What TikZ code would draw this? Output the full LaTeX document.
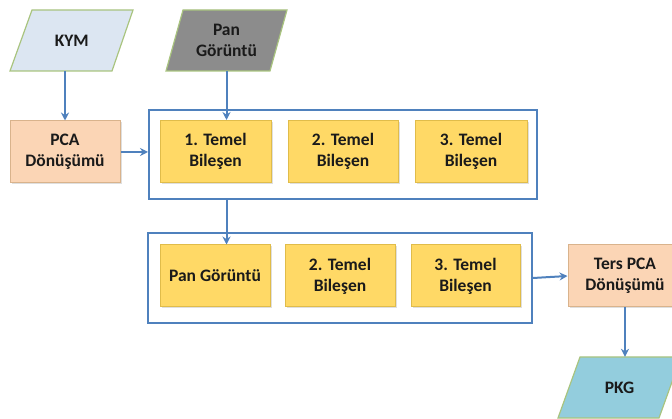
\documentclass[tikz,border=0pt]{standalone}
\usepackage{fontspec}
\setmainfont{Carlito}
\usetikzlibrary{arrows.meta,shadows,calc}

\definecolor{lineblue}{HTML}{4F81BD}
\definecolor{kymfill}{HTML}{DCE6F2}
\definecolor{panfill}{HTML}{8C8C8C}
\definecolor{pkgfill}{HTML}{93CDDD}
\definecolor{paraedge}{HTML}{A9C47F}
\definecolor{pcafill}{HTML}{FBD5B5}
\definecolor{pcaedge}{HTML}{D9B38C}
\definecolor{compfill}{HTML}{FFD966}
\definecolor{compedge}{HTML}{E0BC4A}
\definecolor{txt}{HTML}{1A1A1A}

\tikzset{
  lbl/.style={font=\bfseries\fontsize{17.5}{21}\selectfont, text=txt, align=center, inner sep=0pt},
  para/.style={draw=paraedge, line width=1.2pt},
  rbox/.style={lbl, rectangle, line width=1pt,
    drop shadow={opacity=0.25, shadow xshift=1.5pt, shadow yshift=-1.5pt}},
  pcabox/.style={rbox, draw=pcaedge, fill=pcafill},
  compbox/.style={rbox, draw=compedge, fill=compfill, minimum height=62pt},
  group/.style={draw=lineblue, line width=2pt},
  flow/.style={draw=lineblue, line width=2pt, -{Stealth[length=8pt,width=8pt]}},
}

\begin{document}
\begin{tikzpicture}[x=1pt, y=-1pt]
\useasboundingbox (0,0) rectangle (672,419);
\clip (0,0) rectangle (672,419);

% input parallelograms
\filldraw[para, fill=kymfill] (32,10) -- (133,10) -- (112,71) -- (10,71) -- cycle;
\node[lbl, minimum width=101pt, minimum height=61pt] (kym) at (71.75,40.5) {KYM};

\filldraw[para, fill=panfill] (183,10) -- (287,10) -- (270,71) -- (166,71) -- cycle;
\node[lbl, minimum width=104pt, minimum height=61pt] (pan) at (226.5,40.5) {Pan\\Görüntü};

% forward transform
\node[pcabox, minimum width=110pt, minimum height=62pt] (pca) at (65,152) {PCA\\Dönüşümü};

% first group of components
\node[group, minimum width=388pt, minimum height=89pt] (g1) at (343,154.5) {};
\node[compbox, minimum width=111pt] (c11) at (215.5,151.5) {1. Temel\\Bileşen};
\node[compbox, minimum width=110pt] (c12) at (343,151.5) {2. Temel\\Bileşen};
\node[compbox, minimum width=112pt] (c13) at (471,151.5) {3. Temel\\Bileşen};

% second group of components
\node[group, minimum width=384pt, minimum height=90pt] (g2) at (340,278) {};
\node[compbox, minimum width=110pt] (c21) at (215,276) {Pan Görüntü};
\node[compbox, minimum width=110pt] (c22) at (340,276) {2. Temel\\Bileşen};
\node[compbox, minimum width=109pt] (c23) at (465.5,276) {3. Temel\\Bileşen};

% inverse transform
\node[pcabox, minimum width=114pt, minimum height=62pt] (ipca) at (625,276) {Ters PCA\\Dönüşümü};

% output parallelogram
\filldraw[para, fill=pkgfill] (580,357) -- (681,357) -- (659,418) -- (558,418) -- cycle;
\node[lbl, minimum width=101pt, minimum height=61pt] (pkg) at (619.5,387.5) {PKG};

% connectors
\draw[flow] (pca.north |- kym.south) -- (pca.north);
\draw[flow] (pan.south) -- (pan.south |- c11.north);
\draw[flow] (pca.east) -- (g1.west |- pca.east);
\draw[flow] (pan.south |- g1.south) -- (pan.south |- c21.north);
\draw[flow] (g2.east) -- (ipca.west);
\draw[flow] (ipca.south) -- (ipca.south |- pkg.north);
\end{tikzpicture}
\end{document}
